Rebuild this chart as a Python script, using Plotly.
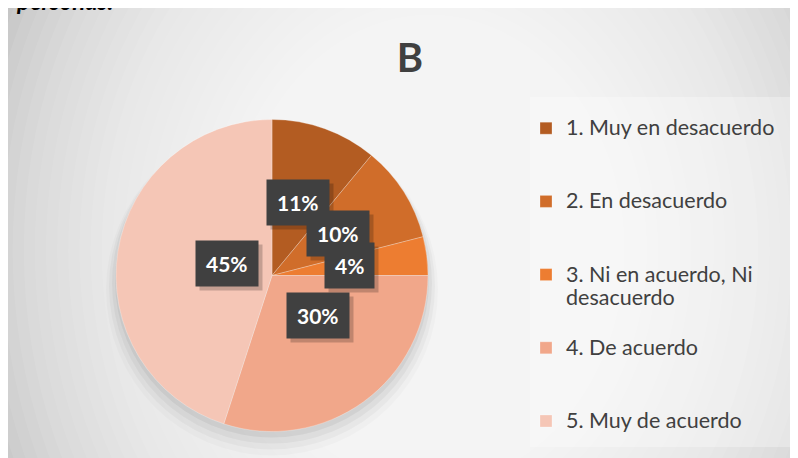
import plotly.graph_objects as go
import math

# ---------------- data ----------------
categories = [
    "1. Muy en desacuerdo",
    "2. En desacuerdo",
    "3. Ni en acuerdo, Ni<br>desacuerdo",
    "4. De acuerdo",
    "5. Muy de acuerdo",
]
values = [11, 10, 4, 30, 45]
colors = ["#B35C22", "#D06D2A", "#ED7D31", "#F1A78A", "#F5C6B6"]
title_text = "B"
caption_text = "personas."

# ---------------- geometry helpers (reference pixels -> paper) ----------------
W, H = 798, 458
OFF = 8  # the page body margin shifts the figure by 8 px right and down

def px(x):
    return (x - OFF) / W

def py(y):
    return 1 - (y - OFF) / H

cx, cy, R = 272, 275.5, 156

# legend labels padded to three lines each so spacing matches the reference
legend_labels = []
for i, c in enumerate(categories):
    n = c.count("<br>") + 1
    pad = 0 if i == len(categories) - 1 else 3 - n
    legend_labels.append("<span style='font-size:21.5px'>" + c + "</span>" + "<br> " * pad)

fig = go.Figure()
fig.add_trace(go.Pie(
    labels=legend_labels,
    values=values,
    sort=False,
    direction="clockwise",
    rotation=0,
    textinfo="none",
    hoverinfo="skip",
    marker=dict(colors=colors, line=dict(color="rgba(255,255,255,0.45)", width=0.6)),
    domain=dict(x=[px(cx - R), px(cx + R)], y=[py(cy + R), py(cy - R)]),
    showlegend=True,
))

shapes = []
# chart frame background (radial-ish gradient built from layered ellipses)
shapes.append(dict(type="rect", xref="paper", yref="paper", layer="below",
                   x0=px(8), x1=1.05, y0=-0.05, y1=py(7),
                   fillcolor="#C2C2C2", line=dict(width=0)))
N = 30
gx, gy, grx, gry = 430, 250, 430, 520
for k in range(N):
    s = 1.1 - k * (0.75 / (N - 1))
    shapes.append(dict(type="circle", xref="paper", yref="paper", layer="below",
                       x0=px(gx - grx * s), x1=px(gx + grx * s),
                       y0=py(gy + gry * s), y1=py(gy - gry * s),
                       fillcolor="rgba(255,255,255,0.08)", line=dict(width=0)))
# re-cover the area outside the frame with white
shapes.append(dict(type="rect", xref="paper", yref="paper", layer="below",
                   x0=-0.05, x1=px(8), y0=-0.05, y1=1.05, fillcolor="white", line=dict(width=0)))
shapes.append(dict(type="rect", xref="paper", yref="paper", layer="below",
                   x0=-0.05, x1=1.05, y0=py(7), y1=1.05, fillcolor="white", line=dict(width=0)))
# legend panel
shapes.append(dict(type="rect", xref="paper", yref="paper", layer="below",
                   x0=px(530), x1=px(793), y0=py(447), y1=py(97),
                   fillcolor="rgba(255,255,255,0.3)", line=dict(width=0)))
# soft pie shadow (mostly below the pie)
for dr, dy, a in [(10, 14, 0.02), (7, 11, 0.03), (4, 8, 0.04), (1, 5, 0.05)]:
    shapes.append(dict(type="circle", xref="paper", yref="paper", layer="below",
                       x0=px(cx - R - dr), x1=px(cx + R + dr),
                       y0=py(cy + dy + R + dr), y1=py(cy + dy - R - dr),
                       fillcolor=f"rgba(0,0,0,{a})", line=dict(width=0)))

# data labels at half radius along each slice's mid-angle
annotations = []
total = sum(values)
cum = 0
for v in values:
    mid = (cum + v / 2) / total * 2 * math.pi
    cum += v
    lx = cx + 0.5 * R * math.sin(mid)
    ly = cy - 0.5 * R * math.cos(mid)
    txt = f"<b>{round(v / total * 100)}%</b>"
    annotations.append(dict(x=px(lx), y=py(ly), xref="paper", yref="paper",
                            text=txt, showarrow=False, xshift=4, yshift=-4,
                            font=dict(family="Lato", size=21, color="rgba(0,0,0,0)"),
                            bgcolor="rgba(0,0,0,0.2)", borderpad=10))
    annotations.append(dict(x=px(lx), y=py(ly), xref="paper", yref="paper",
                            text=txt, showarrow=False,
                            font=dict(family="Lato", size=21, color="white"),
                            bgcolor="#404040", borderpad=10))

annotations.append(dict(x=px(14), y=py(16.5), xref="paper", yref="paper",
                        xanchor="left", yanchor="bottom", showarrow=False,
                        text=f"<b><i>{caption_text}</i></b>",
                        font=dict(family="Lato", size=24, color="black")))

fig.update_layout(
    width=W, height=H,
    margin=dict(l=0, r=0, t=0, b=0),
    paper_bgcolor="white",
    plot_bgcolor="rgba(0,0,0,0)",
    title=dict(text=f"<b>{title_text}</b>", x=px(410), y=py(58),
               xanchor="center", yanchor="middle", xref="paper", yref="paper",
               font=dict(family="Lato", size=40, color="#404040")),
    legend=dict(x=px(526), y=py(110), xanchor="left", yanchor="top",
                valign="top", bgcolor="rgba(0,0,0,0)", maxheight=600,
                font=dict(family="Lato", size=18, color="#404040")),
    shapes=shapes,
    annotations=annotations,
)

fig.write_html("out.html")
